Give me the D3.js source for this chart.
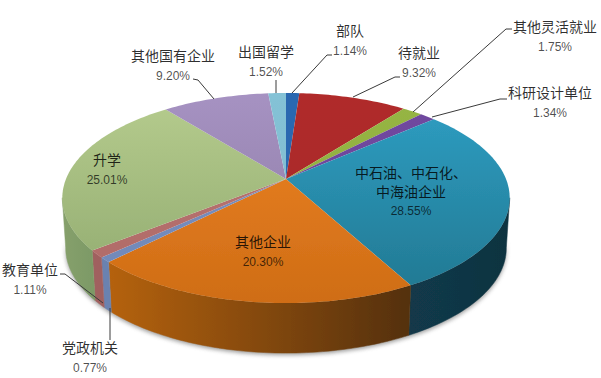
<!DOCTYPE html>
<html><head><meta charset="utf-8"><script src="https://cdn.jsdelivr.net/npm/d3@7"></script>
<style>html,body{margin:0;background:#fff}svg{display:block}</style></head><body><div id="c"></div>
<script>
const categories=["部队","待就业","其他灵活就业","科研设计单位","中石油、中石化、中海油企业","其他企业","党政机关","教育单位","升学","其他国有企业","出国留学"];
const values=[1.14,9.32,1.75,1.34,28.55,20.30,0.77,1.11,25.01,9.20,1.52];
const topHigh=["#2a68b0","#b02c2a","#96b544","#7048a0","#2f9fc4","#ee8424","#7a90bf","#b87472","#b6cc8e","#a692c2","#84c2d6"];
const topLow=["#2a68b0","#a52a28","#8dab3e","#6a4596","#217790","#cf6d16","#7088b8","#b06a68","#8fa96e","#8b7aa2","#7fb8cc"];
const sideRight=["#1d4d82","#7f2020","#6d862e","#503472","#0f3340","#54300a","#6a82b0","#a0605e","#7d9a66","#77658c","#5f8fa0"];
const sideLeft=["#1d4d82","#7f2020","#6d862e","#503472","#12394a","#b5620f","#6a82b0","#a0605e","#86a06c","#77658c","#5f8fa0"];
const labelLines=[["部队","1.14%"],["待就业","9.32%"],["其他灵活就业","1.75%"],["科研设计单位","1.34%"],["中石油、中石化、","中海油企业","28.55%"],["其他企业","20.30%"],["党政机关","0.77%"],["教育单位","1.11%"],["升学","25.01%"],["其他国有企业","9.20%"],["出国留学","1.52%"]];
const labelPos=[[350,36],[419,58],[555,32],[550,98],[411,178],[263,247],[90,353],[30,275],[107,165],[173,61],[266,57]];
const leaders=[[[292,93],[327,55],[332,55]],[[353,97],[395,77],[400,77]],[[413,112],[506,29],[512,29]],[[432,117],[500,99],[507,99]],null,null,[[110,308],[110,340]],[[103,303],[65,274],[60,274]],null,[[214,99],[198,80],[193,79]],[[276,93],[276,80]]];

const W=601,H=378,cx=286,cy=179,R=220,Hv=101.6,k=0.181,depth=50,rimX=0.985;
const svg=d3.select("#c").append("svg").attr("width",W).attr("height",H);
const defs=svg.append("defs");
defs.append("filter").attr("id","shadow").attr("x","-10%").attr("y","-20%").attr("width","120%").attr("height","140%")
  .append("feGaussianBlur").attr("stdDeviation",2.2);
defs.append("filter").attr("id","soft").append("feGaussianBlur").attr("stdDeviation",0.45);
function proj(a){const u=Math.sin(a),v=-Math.cos(a),d=1-k*v;return [cx+R*u/d,cy+Hv*v/d];}
function rim(a){const p=proj(a);return [cx+(p[0]-cx)*rimX,p[1]+depth];}
const arcs=d3.pie().sort(null).value(d=>d)(values);
const line=d3.line();
function samples(a0,a1,step=0.02){const n=Math.max(2,Math.ceil((a1-a0)/step));return d3.range(n+1).map(i=>a0+(a1-a0)*i/n);}
const lo=Math.PI/2+0.18,hi=3*Math.PI/2-0.18;
const allFront=samples(lo,hi);
svg.append("path").attr("d",line(allFront.map(a=>{const p=rim(a);return [p[0],p[1]+2];}).concat(allFront.slice().reverse().map(a=>{const p=rim(a);return [p[0],p[1]-10];}))))
  .attr("fill","#6f6f6f").attr("filter","url(#shadow)").attr("opacity",0.7);
const g=svg.append("g").attr("filter","url(#soft)");
arcs.forEach((d,i)=>{const s=Math.max(d.startAngle,lo),e=Math.min(d.endAngle,hi);if(s>=e)return;
  const ss=samples(s,e);const id="side"+i;const p0=proj(s),p1=proj(e);
  const gr=defs.append("linearGradient").attr("id",id).attr("gradientUnits","userSpaceOnUse").attr("x1",p0[0]).attr("x2",p1[0]).attr("y1",0).attr("y2",0);
  gr.append("stop").attr("offset",0).attr("stop-color",sideRight[i]);
  gr.append("stop").attr("offset",1).attr("stop-color",sideLeft[i]);
  g.append("path").attr("d",line(ss.map(proj).concat(ss.slice().reverse().map(rim)))+"Z")
   .attr("fill","url(#"+id+")").attr("stroke","url(#"+id+")").attr("stroke-width",0.5);
});
arcs.forEach((d,i)=>{const ss=samples(d.startAngle,d.endAngle);
  const id="top"+i;const gr=defs.append("linearGradient").attr("id",id).attr("gradientUnits","userSpaceOnUse").attr("x1",0).attr("x2",0).attr("y1",93).attr("y2",303);
  gr.append("stop").attr("offset",0).attr("stop-color",topHigh[i]);
  gr.append("stop").attr("offset",1).attr("stop-color",topLow[i]);
  g.append("path").attr("d",line([[cx,cy]].concat(ss.map(proj)))+"Z").attr("fill","url(#"+id+")");
});
leaders.forEach(l=>{if(l)svg.append("path").attr("d",line(l)).attr("fill","none").attr("stroke","#3a3a3a").attr("stroke-width",1);});
labelLines.forEach((ls,i)=>{const t=svg.append("text").attr("text-anchor","middle").attr("font-family","'Noto Sans CJK SC','Noto Sans',sans-serif").attr("font-size",14).attr("fill","#000");
  ls.forEach((s,j)=>{const pct=/%$/.test(s);
    t.append("tspan").attr("x",labelPos[i][0]).attr("y",labelPos[i][1]+j*18.5).text(s)
     .attr("font-family",pct?"'Liberation Sans',sans-serif":null).attr("font-size",pct?12:14).attr("fill-opacity",pct?0.7:0.82);});
});
</script></body></html>
